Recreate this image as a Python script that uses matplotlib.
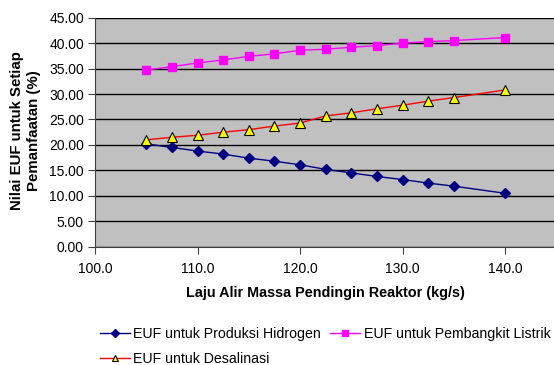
import matplotlib
matplotlib.use("Agg")
import matplotlib.pyplot as plt

plt.rcParams['font.family'] = ['Liberation Sans', 'DejaVu Sans']

x = [105, 107.5, 110, 112.5, 115, 117.5, 120, 122.5, 125, 127.5, 130, 132.5, 135, 140]
hidrogen = [20.2, 19.5, 18.8, 18.2, 17.4, 16.8, 16.1, 15.2, 14.5, 13.8, 13.2, 12.5, 11.9, 10.5]
listrik = [34.7, 35.4, 36.1, 36.7, 37.4, 37.9, 38.6, 38.8, 39.2, 39.5, 40.0, 40.3, 40.5, 41.1]
desalinasi = [21.0, 21.5, 21.9, 22.5, 23.0, 23.7, 24.3, 25.7, 26.3, 27.1, 27.8, 28.6, 29.3, 30.8]

labels = ["EUF untuk Produksi Hidrogen", "EUF untuk Pembangkit Listrik", "EUF untuk Desalinasi"]
xticks = [100, 110, 120, 130, 140]
yticks = [0, 5, 10, 15, 20, 25, 30, 35, 40, 45]

fig = plt.figure(figsize=(5.54, 3.65), dpi=100)
ax = fig.add_axes([95/554, 1-246.7/365, (607.5-95)/554, (246.7-17.7)/365])
ax.set_facecolor('#C0C0C0')

l1, = ax.plot(x, hidrogen, color='#000080', lw=1, marker='D', ms=5, mfc='#000080', mec='#000080', label=labels[0])
l2, = ax.plot(x, listrik, color='#FF00FF', lw=1, marker='s', ms=6, mfc='#FF00FF', mec='#FF00FF', label=labels[1])
l3, = ax.plot(x, desalinasi, color='#FF0000', lw=1, marker='^', ms=6.5, mfc='#FFFF00', mec='black', mew=0.8, label=labels[2])

ax.set_xlim(100, 150)
ax.set_ylim(0, 45)
ax.set_xticks(xticks)
ax.set_xticklabels([f"{v:.1f}" for v in xticks])
ax.set_yticks(yticks)
ax.set_yticklabels([f"{v:.2f}" for v in yticks])
ax.yaxis.grid(True, color='black', lw=1)
ax.set_axisbelow(True)
for s in ['top', 'right']:
    ax.spines[s].set_visible(False)
for s in ['left', 'bottom']:
    ax.spines[s].set_color('#404040')
ax.tick_params(axis='both', direction='out', length=5, color='#404040', labelsize=10, pad=3)
ax.tick_params(axis='x', pad=6)

fig.text(325/554, 1-293.3/365, "Laju Alir Massa Pendingin Reaktor (kg/s)", ha='center', va='center',
         fontsize=10.4, fontweight='bold')
fig.text(25.3/554, 1-131/365, "Nilai EUF untuk Setiap\nPemanfaatan (%)", ha='center', va='center',
         rotation=90, fontsize=10.8, fontweight='bold', linespacing=1.25)

fig.legend(handles=[l1, l3, l2], loc='upper left', bbox_to_anchor=(100/554, 1-327/365), ncol=2,
           frameon=False, fontsize=10.2, handlelength=2.1, handletextpad=0.25, columnspacing=0.65,
           labelspacing=0.75, borderaxespad=0, borderpad=0, markerscale=0.75)

fig.savefig("out.png", dpi=100)
